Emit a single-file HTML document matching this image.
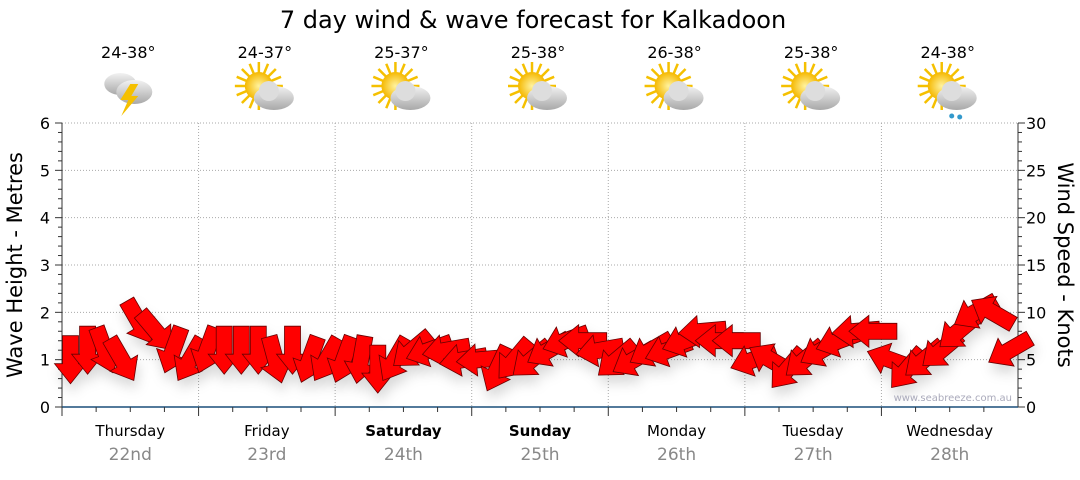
<!DOCTYPE html>
<html><head><meta charset="utf-8"><style>
body{margin:0;background:#fff;font-family:"Liberation Sans","DejaVu Sans",sans-serif}
svg text{font-family:"DejaVu Sans","Liberation Sans",sans-serif}
</style></head><body>
<svg id="c" width="1080" height="475" xmlns="http://www.w3.org/2000/svg">
<defs>
<filter id="sh" x="-50%" y="-50%" width="200%" height="200%"><feDropShadow dx="2" dy="8" stdDeviation="6" flood-color="#000" flood-opacity="0.15"/></filter>
<radialGradient id="sun" cx="0.5" cy="0.5" r="0.5"><stop offset="0" stop-color="#fff3a0"/><stop offset="1" stop-color="#f5b800"/></radialGradient>
<linearGradient id="cl" x1="0" y1="0" x2="0" y2="1"><stop offset="0" stop-color="#f2f2f2"/><stop offset="1" stop-color="#a8a8a8"/></linearGradient>
</defs>
<text x="533" y="28" font-size="24" text-anchor="middle" fill="#000">7 day wind &amp; wave forecast for Kalkadoon</text>
<g id="grid"></g><g id="axes"></g><g id="icons"></g><g id="arrows" filter="url(#sh)"></g>
<text x="1012" y="401" font-size="10" text-anchor="end" fill="#aab">www.seabreeze.com.au</text>
<text transform="translate(22,265) rotate(-90)" font-size="21" text-anchor="middle">Wave Height - Metres</text>
<text transform="translate(1058,265) rotate(90)" font-size="21" text-anchor="middle">Wind Speed - Knots</text>
</svg>
<script>
const days=["Thursday","Friday","Saturday","Sunday","Monday","Tuesday","Wednesday"];
const dates=["22nd","23rd","24th","25th","26th","27th","28th"];
const temps=["24-38°","24-37°","25-37°","25-38°","26-38°","25-38°","24-38°"];
const icons=["storm","sun","sun","sun","sun","sun","rain"];
const windSpeed=[5,6,6,5,9,8,6,5, 6,6,6,6,5,6,5,5, 5,5,4,5,6,6,6,5, 5,4,5,5,6,7,7,6, 5,5,6,6,7,8,7,7, 5,5,4,5,6,7,8,8, 5,4,5,6,8,10,10,6];
const windDir=[180,180,160,150,150,140,200,210, 200,180,180,180,165,180,200,210, 200,190,180,210,230,250,260,260, 265,205,220,230,240,250,270,260, 230,240,240,250,250,265,270,270, 250,300,220,230,240,250,265,270, 290,220,230,230,230,240,300,240];
const waveTicks=[0,1,2,3,4,5,6];
const windTicks=[0,5,10,15,20,25,30];
const L=62,R=1018,T=123,B=407,dw=(R-L)/7;
const yW=v=>B-(B-T)*v/6, yK=v=>B-(B-T)*v/30, xT=i=>L+dw*(i+0.5)/8;
const ns="http://www.w3.org/2000/svg";
function mk(p,t,a){const e=document.createElementNS(ns,t);for(const k in a)e.setAttribute(k,a[k]);p.appendChild(e);return e;}
const g=document.getElementById('grid'),ax=document.getElementById('axes'),ic=document.getElementById('icons'),ar=document.getElementById('arrows');
waveTicks.forEach(v=>{if(v>0){const l=mk(g,'line',{x1:L,x2:R,y1:yW(v),y2:yW(v),stroke:'#aaa','stroke-dasharray':'1,2'});

}
const t=mk(ax,'text',{x:50,y:yW(v)+6,'font-size':16,'text-anchor':'end'});t.textContent=v;


if(v<6)for(let k=1;k<5;k++)mk(ax,'line',{x1:L-4,x2:L,y1:yW(v+k/5),y2:yW(v+k/5),stroke:'#333'});
mk(ax,'line',{x1:L-7,x2:L,y1:yW(v),y2:yW(v),stroke:'#333'});});
windTicks.forEach(v=>{const t=mk(ax,'text',{x:1026,y:yK(v)+6,'font-size':16});t.textContent=v;


mk(ax,'line',{x1:R,x2:R+7,y1:yK(v),y2:yK(v),stroke:'#333'});
if(v<30)for(let k=1;k<5;k++)mk(ax,'line',{x1:R,x2:R+4,y1:yK(v+k),y2:yK(v+k),stroke:'#333'});});
mk(ax,'line',{x1:L,x2:L,y1:T,y2:B,stroke:'#333'});mk(ax,'line',{x1:R,x2:R,y1:T,y2:B,stroke:'#333'});
mk(ax,'line',{x1:L,x2:R,y1:B,y2:B,stroke:'#1a4f7a','stroke-width':1.5});
days.forEach((d,i)=>{const x0=L+dw*i,cx=x0+dw/2;
if(i>0){const l=mk(g,'line',{x1:x0,x2:x0,y1:T,y2:B,stroke:'#aaa','stroke-dasharray':'1,2'});

}
mk(ax,'line',{x1:x0,x2:x0,y1:B,y2:B+9,stroke:'#333'});
for(let k=1;k<4;k++)mk(ax,'line',{x1:x0+dw*k/4,x2:x0+dw*k/4,y1:B,y2:B+5,stroke:'#333'});
const t=mk(ax,'text',{x:cx,y:436,'font-size':15,'text-anchor':'middle','font-weight':(i==2||i==3)?'bold':'normal'});t.textContent=d;


const t2=mk(ax,'text',{x:cx,y:460,'font-size':17,'text-anchor':'middle',fill:'#888'});t2.textContent=dates[i];


const t3=mk(ic,'text',{x:cx-2,y:58,'font-size':16,'text-anchor':'middle'});t3.textContent=temps[i];


const w=mk(ic,'g',{transform:`translate(${cx-2},92)`});


if(icons[i]=='storm'){mk(w,'ellipse',{cx:-8,cy:-8,rx:16,ry:11,fill:'url(#cl)'});mk(w,'ellipse',{cx:6,cy:0,rx:18,ry:12,fill:'url(#cl)'});
mk(w,'path',{d:'M2,-8 L-8,8 L0,8 L-7,24 L10,4 L3,4 L10,-8Z',fill:'#f5c000'});}
else{for(let k=0;k<16;k++){const a=k*Math.PI/8;mk(w,'line',{x1:-6+Math.cos(a)*12,y1:-6+Math.sin(a)*12,x2:-6+Math.cos(a)*24,y2:-6+Math.sin(a)*24,stroke:'#f5c000','stroke-width':2.5});}
mk(w,'circle',{cx:-6,cy:-6,r:14,fill:'url(#sun)'});
mk(w,'ellipse',{cx:9,cy:6,rx:20,ry:12,fill:'url(#cl)'});mk(w,'circle',{cx:4,cy:-1,r:10,fill:'#ddd'});
if(icons[i]=='rain'){mk(w,'circle',{cx:4,cy:24,r:2.5,fill:'#39c'});mk(w,'circle',{cx:12,cy:25,r:2.5,fill:'#39c'});}}});
windSpeed.forEach((s,i)=>{const x=xT(i),y=yK(s);
const p=mk(ar,'path',{d:'M-8,-24 L8,-24 L8,4 L16,4 L0,24 L-16,4 L-8,4Z',fill:'#f00',stroke:'#600','stroke-width':0.8,
transform:`translate(${x.toFixed(1)},${y.toFixed(1)}) rotate(${windDir[i]-180})`});

});
</script>
</body></html>
